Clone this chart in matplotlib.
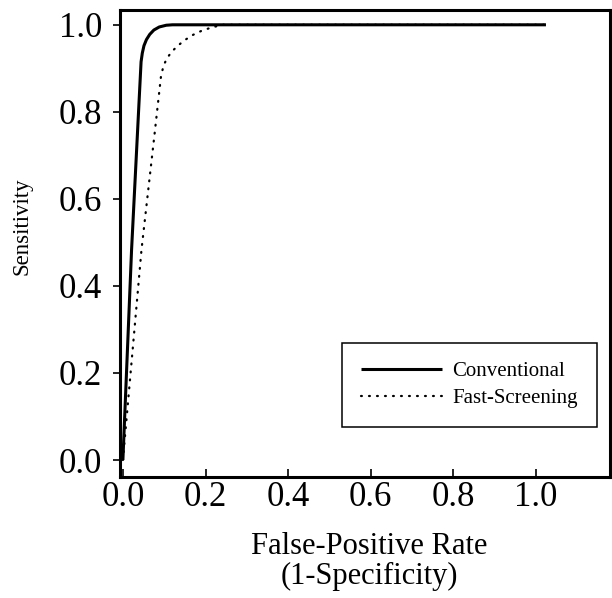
import matplotlib
matplotlib.use("Agg")
import matplotlib.pyplot as plt

# Data
conv_fpr = [0.0, 0.021, 0.044, 0.047, 0.051, 0.057, 0.065, 0.075, 0.088, 0.105, 0.12, 0.133, 1.024]
conv_sens = [0.0, 0.483, 0.915, 0.935, 0.952, 0.966, 0.978, 0.988, 0.995, 0.999, 1.0, 1.0, 1.0]

fast_fpr = [0.0, 0.045, 0.077, 0.092, 0.098, 0.106, 0.118, 0.133, 0.15, 0.17, 0.19, 0.215, 0.242, 1.024]
fast_sens = [0.0, 0.483, 0.752, 0.88, 0.905, 0.922, 0.938, 0.952, 0.965, 0.977, 0.986, 0.994, 1.0, 1.0]

xticks = [0.0, 0.2, 0.4, 0.6, 0.8, 1.0]
yticks = [0.0, 0.2, 0.4, 0.6, 0.8, 1.0]
labels = ["Conventional", "Fast-Screening"]

plt.rcParams['font.family'] = ['Liberation Serif', 'DejaVu Serif']

fig = plt.figure(figsize=(6.12, 5.98), dpi=100)
ax = fig.add_axes([120/612, 1 - 477/598, 490/612, 467/598])

ax.plot(conv_fpr, conv_sens, color='black', lw=2.2, solid_capstyle='butt',
        solid_joinstyle='round', label=labels[0])
ax.plot(fast_fpr, fast_sens, color='black', lw=1.6,
        linestyle=(0, (0.4, 3.2)), dash_capstyle='round', label=labels[1])

ax.set_xlim(-0.007, 1.179)
ax.set_ylim(-0.039, 1.034)

ax.set_xticks(xticks)
ax.set_xticklabels([f"{v:.1f}" for v in xticks])
ax.set_yticks(yticks)
ax.set_yticklabels([f"{v:.1f}" for v in yticks])

ax.tick_params(axis='x', direction='in', length=6, width=1.2, pad=3,
               labelsize=25)
ax.tick_params(axis='y', direction='out', length=5, width=1.2, pad=8,
               labelsize=25)

for s in ax.spines.values():
    s.set_linewidth(2.2)

leg = ax.legend(loc='upper left', bbox_to_anchor=(0.453, 0.107, 0.52, 0.18),
                mode='expand', fontsize=15, handlelength=3.9,
                handletextpad=0.5, labelspacing=0.35, borderpad=0.9,
                fancybox=False, framealpha=1, edgecolor='black',
                borderaxespad=0)
leg.get_frame().set_linewidth(1.1)

fig.text(22/612, 1 - 226/598, "Sensitivity", rotation=90, ha='center',
         va='center', fontsize=16.5)
fig.text(369/612, 1 - 546/598, "False-Positive Rate", ha='center',
         va='center', fontsize=22)
fig.text(369/612, 1 - 576/598, "(1-Specificity)", ha='center',
         va='center', fontsize=22)

fig.savefig("out.png", dpi=100)
